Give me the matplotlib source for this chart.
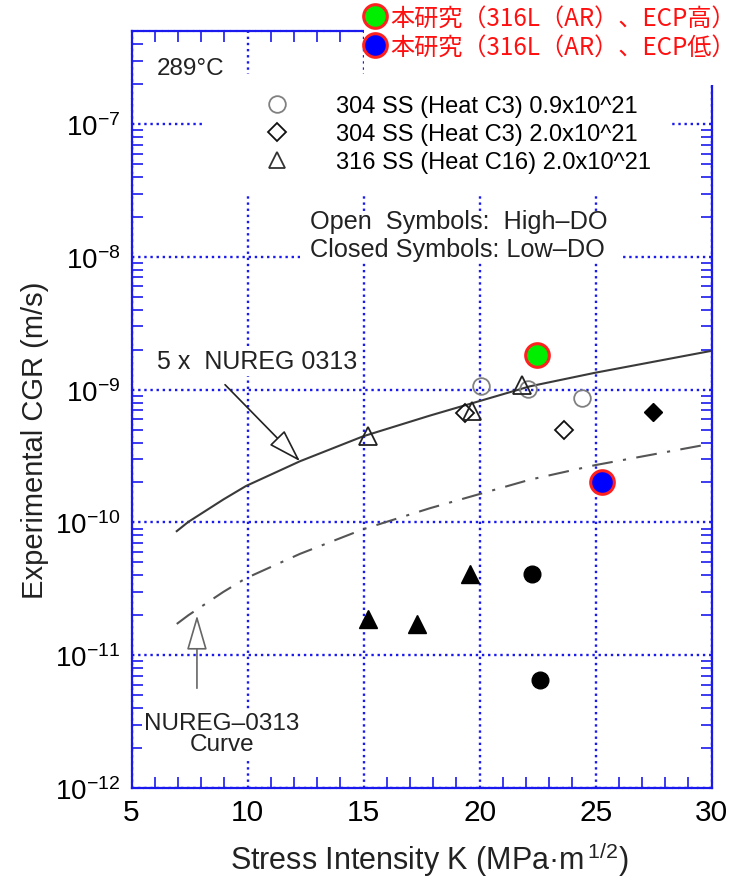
import matplotlib
matplotlib.use('Agg')
import matplotlib.pyplot as plt
from matplotlib.lines import Line2D
from matplotlib.patches import Rectangle
from matplotlib.ticker import MultipleLocator, LogLocator, NullFormatter
import numpy as np

plt.rcParams['font.family'] = ['Liberation Sans', 'DejaVu Sans']
plt.rcParams['mathtext.fontset'] = 'custom'
plt.rcParams['mathtext.rm'] = 'Liberation Sans'
plt.rcParams['mathtext.it'] = 'Liberation Sans:italic'
plt.rcParams['mathtext.bf'] = 'Liberation Sans:bold'

# ---------------- data ----------------
# 304 SS (Heat C3) 0.9x10^21 -- circles
c3a_open_k = [20.06, 22.07, 24.4]
c3a_open_cgr = [1.06e-9, 1.02e-9, 8.6e-10]
c3a_closed_k = [22.24, 22.6]
c3a_closed_cgr = [4.06e-11, 6.5e-12]
# 304 SS (Heat C3) 2.0x10^21 -- diamonds
c3b_open_k = [19.37, 23.65]
c3b_open_cgr = [6.7e-10, 5.0e-10]
c3b_closed_k = [27.48]
c3b_closed_cgr = [6.8e-10]
# 316 SS (Heat C16) 2.0x10^21 -- triangles
c16_open_k = [15.18, 19.66, 21.81]
c16_open_cgr = [4.5e-10, 6.9e-10, 1.08e-9]
c16_closed_k = [15.2, 17.29, 19.58]
c16_closed_cgr = [1.86e-11, 1.71e-11, 4.06e-11]
# this study 316L(AR)
ecp_high_k = [22.48]
ecp_high_cgr = [1.82e-9]
ecp_low_k = [25.28]
ecp_low_cgr = [2.0e-10]
# curves
nureg5_k = [6.95, 7.45, 8.96, 9.93, 12.26, 14.99, 17.86, 22.17, 24.97, 29.92]
nureg5_cgr = [8.6e-11, 1.01e-10, 1.49e-10, 1.88e-10, 2.89e-10, 4.46e-10,
              6.38e-10, 1.06e-9, 1.34e-9, 1.95e-9]
nureg_k = [6.95, 7.45, 8.96, 9.93, 12.26, 14.99, 17.86, 22.17, 24.97, 29.92]
nureg_cgr = [1.72e-11, 2.0e-11, 3.0e-11, 3.8e-11, 5.8e-11, 8.9e-11,
             1.28e-10, 2.1e-10, 2.7e-10, 3.9e-10]

x_ticks = [5, 10, 15, 20, 25, 30]
y_ticks = [1e-12, 1e-11, 1e-10, 1e-9, 1e-8, 1e-7]
y_ticklabels = [r'$\mathregular{10^{-12}}$', r'$\mathregular{10^{-11}}$',
                r'$\mathregular{10^{-10}}$', r'$\mathregular{10^{-9}}$',
                r'$\mathregular{10^{-8}}$', r'$\mathregular{10^{-7}}$']
legend_labels = ['304 SS (Heat C3) 0.9x10^21', '304 SS (Heat C3) 2.0x10^21',
                 '316 SS (Heat C16) 2.0x10^21']
study_labels = ['本研究（316L（AR）、ECP高）', '本研究（316L（AR）、ECP低）']

BLUE = '#1a1aee'

fig = plt.figure(figsize=(7.43, 8.79), dpi=100)
ax = fig.add_axes([131.5 / 743, 90 / 879, 580.2 / 743, 756.7 / 879])
ax.set_xlim(5, 30)
ax.set_yscale('log')
ax.set_ylim(1e-12, 5e-7)

ax.set_xticks(x_ticks)
ax.set_xticklabels([str(v) for v in x_ticks])
ax.set_yticks(y_ticks)
ax.set_yticklabels(y_ticklabels)
ax.xaxis.set_minor_locator(MultipleLocator(1))
ax.yaxis.set_minor_locator(LogLocator(base=10, subs=np.arange(2, 10), numticks=100))
ax.yaxis.set_minor_formatter(NullFormatter())

ax.tick_params(which='both', direction='in', top=True, right=True, color=BLUE)
ax.tick_params(which='major', length=0, labelsize=20, pad=8)
ax.tick_params(axis='x', which='major', labelsize=21.5, pad=7)
ax.tick_params(which='minor', length=8, width=1.2)
ax.grid(True, which='major', color=BLUE, linestyle=(0, (1, 1.6)), linewidth=1.7)
for s in ax.spines.values():
    s.set_color(BLUE)
    s.set_linewidth(1.6)
    s.set_linestyle((0, (2, 0.8)))

# white boxes behind text blocks (hide grid like the reference)
ax.add_patch(Rectangle((0.123, 0.785), 0.809, 0.159, transform=ax.transAxes,
                       fc='white', ec='none', zorder=1.8))
ax.add_patch(Rectangle((0.290, 0.695), 0.555, 0.066, transform=ax.transAxes,
                       fc='white', ec='none', zorder=1.8))

# curves
ax.plot(nureg5_k, nureg5_cgr, color='#3a3a3a', lw=1.5, zorder=2)
ax.plot(nureg_k, nureg_cgr, color='#555555', lw=1.5,
        linestyle=(0, (10, 5, 1.5, 5)), zorder=2)

# data points
ax.plot(c3a_open_k, c3a_open_cgr, ls='none', marker='o', ms=12, mfc='none',
        mec='#808080', mew=1.3, zorder=3)
ax.plot(c3a_closed_k, c3a_closed_cgr, ls='none', marker='o', ms=12, mfc='black',
        mec='black', zorder=3)
ax.plot(c3b_open_k, c3b_open_cgr, ls='none', marker='D', ms=9, mfc='none',
        mec='#111111', mew=1.3, zorder=3)
ax.plot(c3b_closed_k, c3b_closed_cgr, ls='none', marker='D', ms=9, mfc='black',
        mec='black', zorder=3)
ax.plot(c16_open_k, c16_open_cgr, ls='none', marker='^', ms=13, mfc='none',
        mec='#222222', mew=1.3, zorder=3)
ax.plot(c16_closed_k, c16_closed_cgr, ls='none', marker='^', ms=13, mfc='black',
        mec='black', zorder=3)
ax.plot(ecp_high_k, ecp_high_cgr, ls='none', marker='o', ms=17, mfc='#00ee00',
        mec='#ff2020', mew=2.2, zorder=4)
ax.plot(ecp_low_k, ecp_low_cgr, ls='none', marker='o', ms=17, mfc='#0000ff',
        mec='#ff2020', mew=2.2, zorder=4)

# legend for literature data
handles = [Line2D([], [], ls='none', marker='o', ms=12, mfc='none', mec='#808080', mew=1.3),
           Line2D([], [], ls='none', marker='D', ms=9, mfc='none', mec='#111111', mew=1.3),
           Line2D([], [], ls='none', marker='^', ms=12, mfc='none', mec='#333333', mew=1.3)]
ax.legend(handles, legend_labels, loc='center left', bbox_to_anchor=(0.230, 0.8643),
          frameon=False, fontsize=17, handlelength=1.0, handletextpad=2.0,
          labelspacing=0.26, borderpad=0, borderaxespad=0)

# texts
ax.text(6.09, 2.64e-7, '289°C', fontsize=17.5, ha='left', va='center', color='#222222')
ax.text(12.69, 1.87e-8, 'Open  Symbols:  High–DO', fontsize=18.2, ha='left',
        va='center', color='#222222', zorder=3)
ax.text(12.69, 1.15e-8, 'Closed Symbols: Low–DO', fontsize=18.2, ha='left',
        va='center', color='#222222', zorder=3)
ax.text(6.1, 1.63e-9, '5 x  NUREG 0313', fontsize=18, ha='left', va='center',
        color='#222222', bbox=dict(fc='white', ec='none', pad=2), zorder=3)
ax.text(8.9, 2.58e-12, 'NUREG–0313\nCurve', fontsize=17.5, ha='center', va='center',
        multialignment='center', linespacing=0.95, color='#222222',
        bbox=dict(fc='white', ec='none', pad=2), zorder=3)

ax.annotate('', xy=(12.26, 2.89e-10), xytext=(9.03, 1.09e-9),
            arrowprops=dict(arrowstyle='-|>,head_length=1.05,head_width=0.33',
                            fc='white', ec='#222222', lw=1.2, shrinkA=0, shrinkB=0,
                            mutation_scale=20), zorder=3)
ax.annotate('', xy=(7.82, 2.0e-11), xytext=(7.82, 5.64e-12),
            arrowprops=dict(arrowstyle='-|>,head_length=1.1,head_width=0.32',
                            fc='white', ec='#666666', lw=1.2, shrinkA=0, shrinkB=0,
                            mutation_scale=20), zorder=3)

# axis labels
fig.text(35 / 743, 1 - 440 / 879, 'Experimental CGR (m/s)', rotation=90, fontsize=21,
         ha='center', va='center', color='#222222')
fig.text(429 / 743, 1 - 860 / 879, r'Stress Intensity K (MPa·m$^{\,1/2}$)', fontsize=22,
         ha='center', va='center', color='#222222')

# top-right overlay legend for this study
fig.add_artist(Rectangle((364 / 743, 1 - 86 / 879), (743 - 364) / 743, 86 / 879,
                         transform=fig.transFigure, fc='white', ec='none', zorder=3))
study_handles = [Line2D([], [], ls='none', marker='o', ms=17, mfc='#00ee00',
                        mec='#ff2020', mew=2.2),
                 Line2D([], [], ls='none', marker='o', ms=17, mfc='#0000ff',
                        mec='#ff2020', mew=2.2)]
fig.legend(study_handles, study_labels, loc='center left',
           bbox_to_anchor=(363 / 743, 1 - 33 / 879), frameon=False,
           prop={'family': ['Noto Sans CJK JP', 'DejaVu Sans'], 'size': 17.4},
           labelcolor='#ff1010', handlelength=1.0, handletextpad=0.12,
           labelspacing=0.1, borderpad=0, borderaxespad=0)

fig.savefig('out.png', dpi=100)
